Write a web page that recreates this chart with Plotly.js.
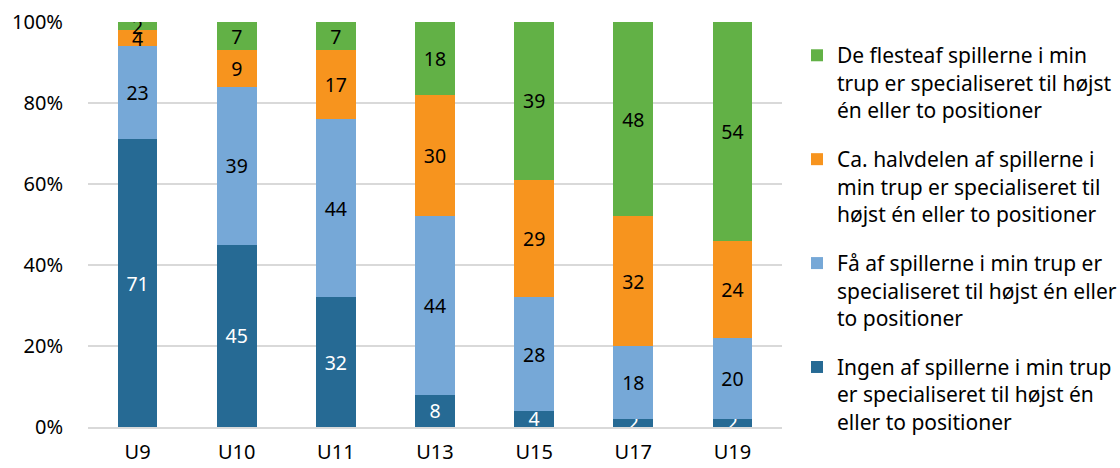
<!DOCTYPE html>
<html>
<head>
<meta charset="utf-8">
<script src="https://cdn.plot.ly/plotly-3.0.1.min.js"></script>
<style>html,body{margin:0;padding:0;background:#fff;}#chart{width:1120px;height:468px;}</style>
</head>
<body>
<div id="chart"></div>
<script>
const categories = ["U9", "U10", "U11", "U13", "U15", "U17", "U19"];
const ingen = [71, 45, 32, 8, 4, 2, 2];
const faa = [23, 39, 44, 44, 28, 18, 20];
const halvdelen = [4, 9, 17, 30, 29, 32, 24];
const flesteaf = [2, 7, 7, 18, 39, 48, 54];
const seriesNames = [
  "Ingen af spillerne i min trup<br>er specialiseret til højst én<br>eller to positioner",
  "Få af spillerne i min trup er<br>specialiseret til højst én eller<br>to positioner",
  "Ca. halvdelen af spillerne i<br>min trup er specialiseret til<br>højst én eller to positioner",
  "De flesteaf spillerne i min<br>trup er specialiseret til højst<br>én eller to positioner"
];
const yTicks = [0, 20, 40, 60, 80, 100];

const FONT = "'Noto Sans', 'Open Sans', sans-serif";
const colors = ["#266A94", "#76A8D7", "#F7941E", "#62B146"];
const textColors = ["#ffffff", "#000000", "#000000", "#000000"];
const series = [ingen, faa, halvdelen, flesteaf];

const traces = series.map((vals, i) => ({
  type: "bar",
  x: categories,
  y: vals,
  name: seriesNames[i],
  legendgroup: "g" + i,
  legendrank: 10 - i,
  marker: { color: colors[i], line: { width: 0 } },
  text: vals.map(String),
  textposition: "inside",
  insidetextanchor: "middle",
  textangle: 0,
  constraintext: "none",
  textfont: { family: FONT, size: 19.5, color: textColors[i] },
  hoverinfo: "x+y+name"
}));

const layout = {
  width: 1120,
  height: 468,
  margin: { l: 88, r: 338, t: 22, b: 41, autoexpand: false },
  paper_bgcolor: "#ffffff",
  plot_bgcolor: "#ffffff",
  barmode: "stack",
  bargap: 0.6,
  font: { family: FONT, size: 20, color: "#000000" },
  xaxis: {
    type: "category",
    range: [-0.5, 6.5],
    showgrid: false,
    showline: true,
    linecolor: "#D9D9D9",
    linewidth: 1.5,
    ticks: "",
    ticklabelstandoff: 6,
    tickfont: { family: FONT, size: 20, color: "#000000" },
    fixedrange: true
  },
  yaxis: {
    range: [0, 100],
    tickvals: yTicks,
    ticktext: yTicks.map(v => v + "%"),
    showgrid: true,
    gridcolor: "#D9D9D9",
    gridwidth: 1.5,
    zeroline: false,
    showline: false,
    ticks: "",
    ticklabelstandoff: 24,
    tickfont: { family: FONT, size: 20, color: "#000000" },
    fixedrange: true
  },
  showlegend: true,
  legend: {
    x: 1.0216,
    xanchor: "left",
    y: 0.9676,
    yanchor: "top",
    traceorder: "grouped",
    tracegroupgap: 19,
    valign: "top",
    font: { family: FONT, size: 21, color: "#000000" },
    bgcolor: "rgba(0,0,0,0)"
  }
};

Plotly.newPlot("chart", traces, layout, { displayModeBar: false, staticPlot: true });
</script>
</body>
</html>
